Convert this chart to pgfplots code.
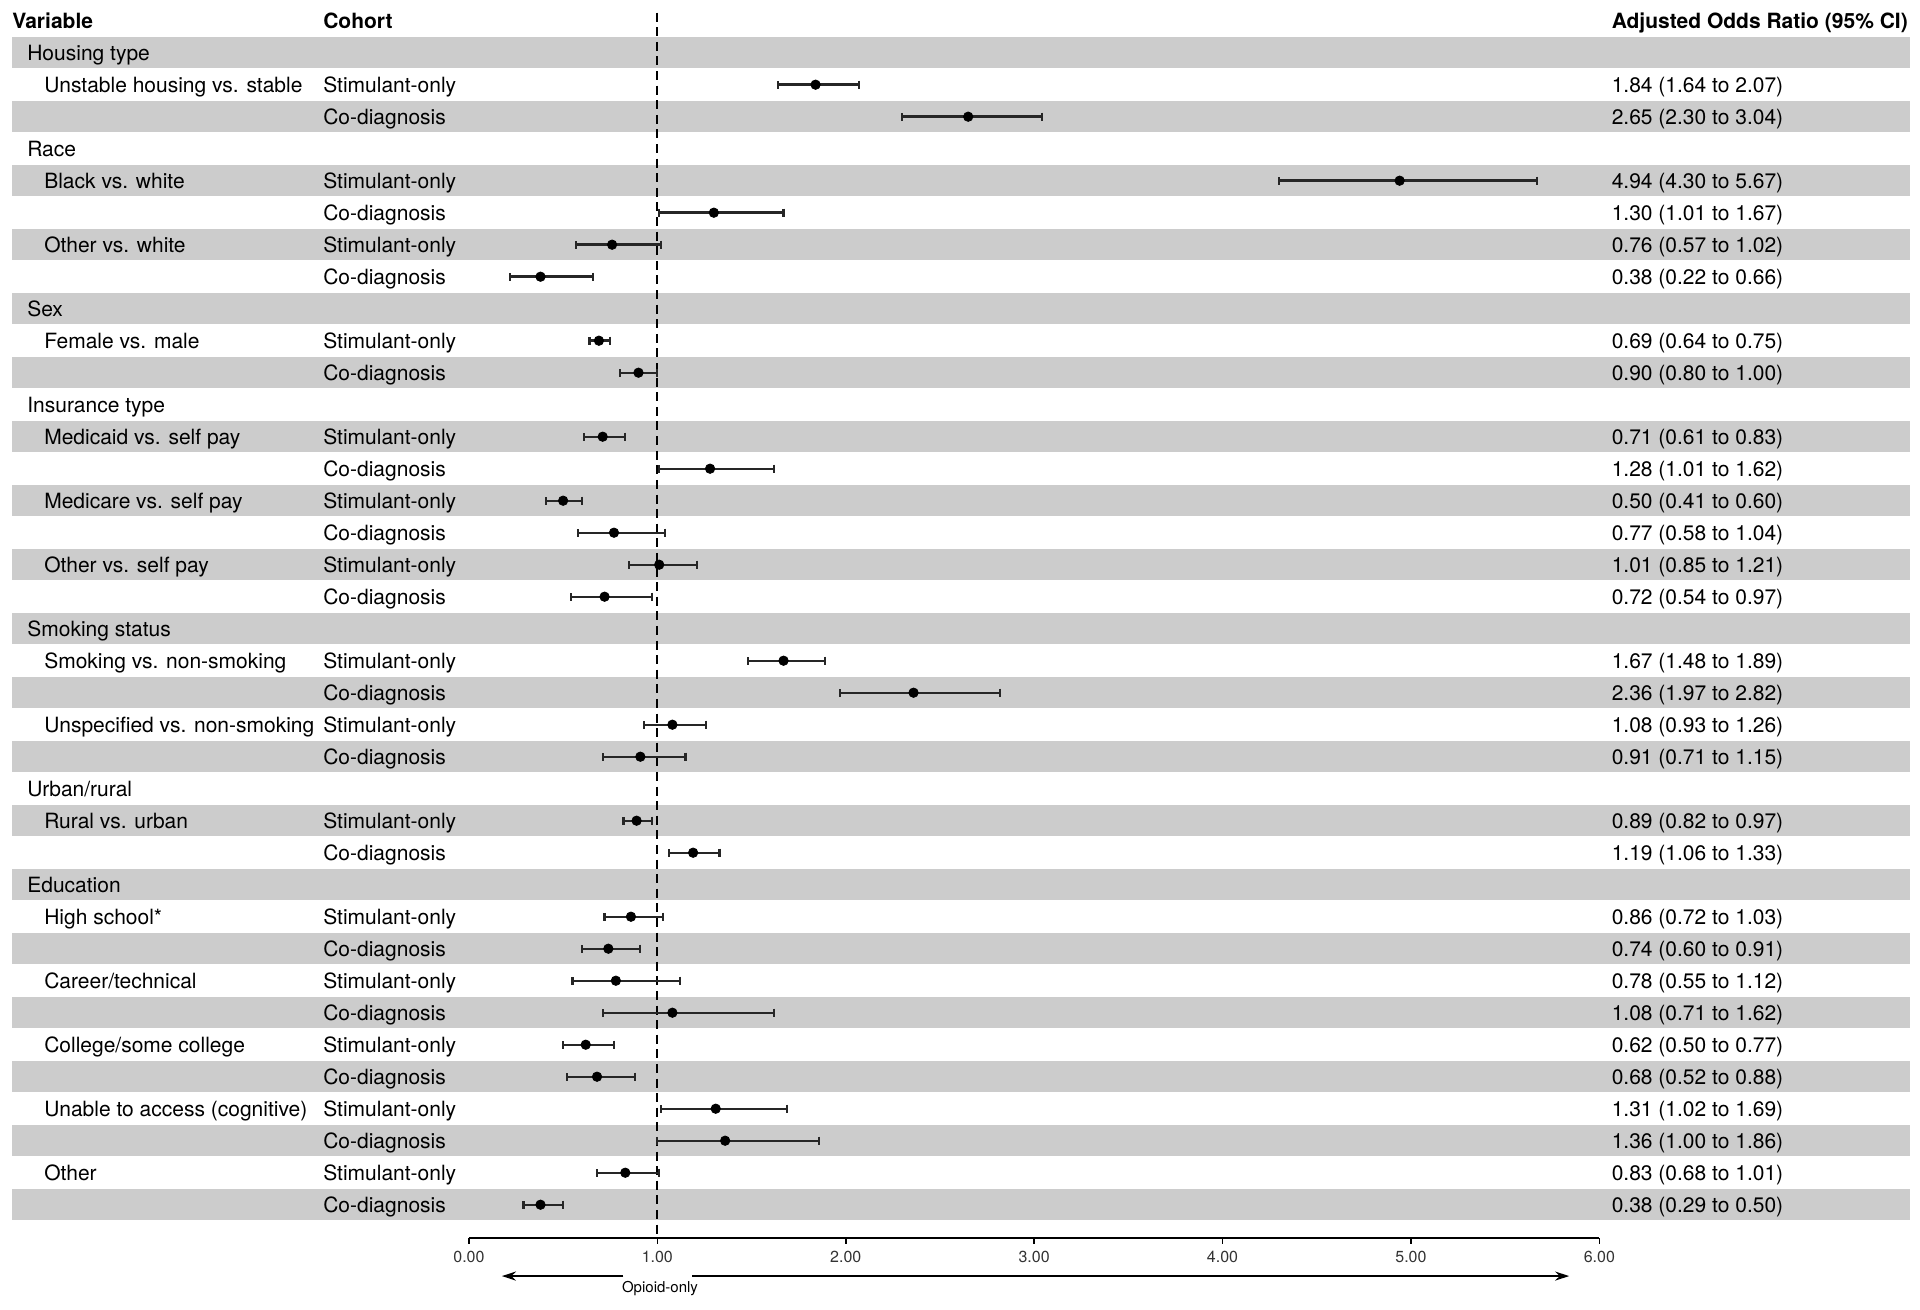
\documentclass[border=0pt]{standalone}
\usepackage{fontspec}
\setmainfont{TeX Gyre Heros}
\usepackage{pgfplots}
\pgfplotsset{compat=1.18}
\usepackage{pgfplotstable}
\usetikzlibrary{arrows.meta}
\definecolor{band}{RGB}{204,204,204}

\pgfplotstableread{
row or lo hi
2 1.84 1.64 2.07
3 2.65 2.30 3.04
5 4.94 4.30 5.67
6 1.30 1.01 1.67
7 0.76 0.57 1.02
8 0.38 0.22 0.66
10 0.69 0.64 0.75
11 0.90 0.80 1.00
13 0.71 0.61 0.83
14 1.28 1.01 1.62
15 0.50 0.41 0.60
16 0.77 0.58 1.04
17 1.01 0.85 1.21
18 0.72 0.54 0.97
20 1.67 1.48 1.89
21 2.36 1.97 2.82
22 1.08 0.93 1.26
23 0.91 0.71 1.15
25 0.89 0.82 0.97
26 1.19 1.06 1.33
28 0.86 0.72 1.03
29 0.74 0.60 0.91
30 0.78 0.55 1.12
31 1.08 0.71 1.62
32 0.62 0.50 0.77
33 0.68 0.52 0.88
34 1.31 1.02 1.69
35 1.36 1.00 1.86
36 0.83 0.68 1.01
37 0.38 0.29 0.50
}\ortable

\tikzset{lab/.style={anchor=base west, inner sep=0pt, yshift=-3.7pt}}

\begin{document}
\begin{tikzpicture}[font=\fontsize{10.5pt}{12pt}\selectfont]
\begin{axis}[
 x=94.2pt, y=16pt,
 xmin=0, xmax=6, ymin=-38.04, ymax=0.647,
 clip=false,
 axis x line=bottom, axis y line=none,
 x axis line style={-, line width=1pt},
 xtick={0,1,2,3,4,5,6},
 xticklabels={0.00,1.00,2.00,3.00,4.00,5.00,6.00},
 tick align=outside, major tick length=3pt,
 tick style={line width=0.8pt, black},
 xticklabel style={font=\fontsize{8pt}{9.6pt}\selectfont, text=black!80},
 ytick=\empty,
]
% bounding box corners
\coordinate (bbA) at (axis cs:-2.489,0.647);
\coordinate (bbB) at (axis cs:7.702,-40.26);
% bands
\pgfplotsinvokeforeach{1,3,...,37}{
  \fill[band] ([yshift=7.75pt]axis cs:-2.426,-#1) rectangle ([yshift=-7.75pt]axis cs:7.649,-#1);
}
% reference line
\draw[line width=1pt, dash pattern=on 4.5pt off 2.8pt] (axis cs:1,0.25) -- (axis cs:1,-38.04);

\addplot[only marks, mark=*, mark size=2.35pt, black,
  error bars/.cd, x dir=both, x explicit, error mark=|,
  error bar style={line width=1.2pt, black!85},
  error mark options={line width=1.1pt, mark size=2pt, black!85}]
  table[x=or, y expr=-\thisrow{row},
        x error plus expr=\thisrow{hi}-\thisrow{or},
        x error minus expr=\thisrow{or}-\thisrow{lo}] {\ortable};

% headers
\node[lab, font=\fontsize{10.5pt}{12pt}\selectfont\bfseries] at (axis cs:-2.426,0) {Variable};
\node[lab, font=\fontsize{10.5pt}{12pt}\selectfont\bfseries] at (axis cs:-0.775,0) {Cohort};
\node[lab, font=\fontsize{10.5pt}{12pt}\selectfont\bfseries] at (axis cs:6.064,0) {Adjusted Odds Ratio (95\% CI)};

% group labels
\node[lab] at (axis cs:-2.346,-1) {Housing type};
\node[lab] at (axis cs:-2.346,-4) {Race};
\node[lab] at (axis cs:-2.346,-9) {Sex};
\node[lab] at (axis cs:-2.346,-12) {Insurance type};
\node[lab] at (axis cs:-2.346,-19) {Smoking status};
\node[lab] at (axis cs:-2.346,-24) {Urban/rural};
\node[lab] at (axis cs:-2.346,-27) {Education};

% sub labels
\node[lab] at (axis cs:-2.256,-2) {Unstable housing vs. stable};
\node[lab] at (axis cs:-2.256,-5) {Black vs. white};
\node[lab] at (axis cs:-2.256,-7) {Other vs. white};
\node[lab] at (axis cs:-2.256,-10) {Female vs. male};
\node[lab] at (axis cs:-2.256,-13) {Medicaid vs. self pay};
\node[lab] at (axis cs:-2.256,-15) {Medicare vs. self pay};
\node[lab] at (axis cs:-2.256,-17) {Other vs. self pay};
\node[lab] at (axis cs:-2.256,-20) {Smoking vs. non-smoking};
\node[lab] at (axis cs:-2.256,-22) {Unspecified vs. non-smoking};
\node[lab] at (axis cs:-2.256,-25) {Rural vs. urban};
\node[lab] at (axis cs:-2.256,-28) {High school*};
\node[lab] at (axis cs:-2.256,-30) {Career/technical};
\node[lab] at (axis cs:-2.256,-32) {College/some college};
\node[lab] at (axis cs:-2.256,-34) {Unable to access (cognitive)};
\node[lab] at (axis cs:-2.256,-36) {Other};

% cohort column
\pgfplotsinvokeforeach{2,5,7,10,13,15,17,20,22,25,28,30,32,34,36}{
  \node[lab] at (axis cs:-0.775,-#1) {Stimulant-only};
}
\pgfplotsinvokeforeach{3,6,8,11,14,16,18,21,23,26,29,31,33,35,37}{
  \node[lab] at (axis cs:-0.775,-#1) {Co-diagnosis};
}

% OR column
\node[lab] at (axis cs:6.064,-2) {1.84 (1.64 to 2.07)};
\node[lab] at (axis cs:6.064,-3) {2.65 (2.30 to 3.04)};
\node[lab] at (axis cs:6.064,-5) {4.94 (4.30 to 5.67)};
\node[lab] at (axis cs:6.064,-6) {1.30 (1.01 to 1.67)};
\node[lab] at (axis cs:6.064,-7) {0.76 (0.57 to 1.02)};
\node[lab] at (axis cs:6.064,-8) {0.38 (0.22 to 0.66)};
\node[lab] at (axis cs:6.064,-10) {0.69 (0.64 to 0.75)};
\node[lab] at (axis cs:6.064,-11) {0.90 (0.80 to 1.00)};
\node[lab] at (axis cs:6.064,-13) {0.71 (0.61 to 0.83)};
\node[lab] at (axis cs:6.064,-14) {1.28 (1.01 to 1.62)};
\node[lab] at (axis cs:6.064,-15) {0.50 (0.41 to 0.60)};
\node[lab] at (axis cs:6.064,-16) {0.77 (0.58 to 1.04)};
\node[lab] at (axis cs:6.064,-17) {1.01 (0.85 to 1.21)};
\node[lab] at (axis cs:6.064,-18) {0.72 (0.54 to 0.97)};
\node[lab] at (axis cs:6.064,-20) {1.67 (1.48 to 1.89)};
\node[lab] at (axis cs:6.064,-21) {2.36 (1.97 to 2.82)};
\node[lab] at (axis cs:6.064,-22) {1.08 (0.93 to 1.26)};
\node[lab] at (axis cs:6.064,-23) {0.91 (0.71 to 1.15)};
\node[lab] at (axis cs:6.064,-25) {0.89 (0.82 to 0.97)};
\node[lab] at (axis cs:6.064,-26) {1.19 (1.06 to 1.33)};
\node[lab] at (axis cs:6.064,-28) {0.86 (0.72 to 1.03)};
\node[lab] at (axis cs:6.064,-29) {0.74 (0.60 to 0.91)};
\node[lab] at (axis cs:6.064,-30) {0.78 (0.55 to 1.12)};
\node[lab] at (axis cs:6.064,-31) {1.08 (0.71 to 1.62)};
\node[lab] at (axis cs:6.064,-32) {0.62 (0.50 to 0.77)};
\node[lab] at (axis cs:6.064,-33) {0.68 (0.52 to 0.88)};
\node[lab] at (axis cs:6.064,-34) {1.31 (1.02 to 1.69)};
\node[lab] at (axis cs:6.064,-35) {1.36 (1.00 to 1.86)};
\node[lab] at (axis cs:6.064,-36) {0.83 (0.68 to 1.01)};
\node[lab] at (axis cs:6.064,-37) {0.38 (0.29 to 0.50)};

% direction arrows
\draw[line width=1.1pt, -{Stealth[length=7pt,width=4.5pt]}] (axis cs:0.82,-39.23) -- (axis cs:0.175,-39.23);
\draw[line width=1.1pt, -{Stealth[length=7pt,width=4.5pt]}] (axis cs:1.185,-39.23) -- (axis cs:5.84,-39.23);
\node[font=\fontsize{7.5pt}{9pt}\selectfont, inner sep=0pt] at (axis cs:1.014,-39.63) {Opioid-only};
\end{axis}
\pgfresetboundingbox
\useasboundingbox (bbA) rectangle (bbB);
\end{tikzpicture}
\end{document}
